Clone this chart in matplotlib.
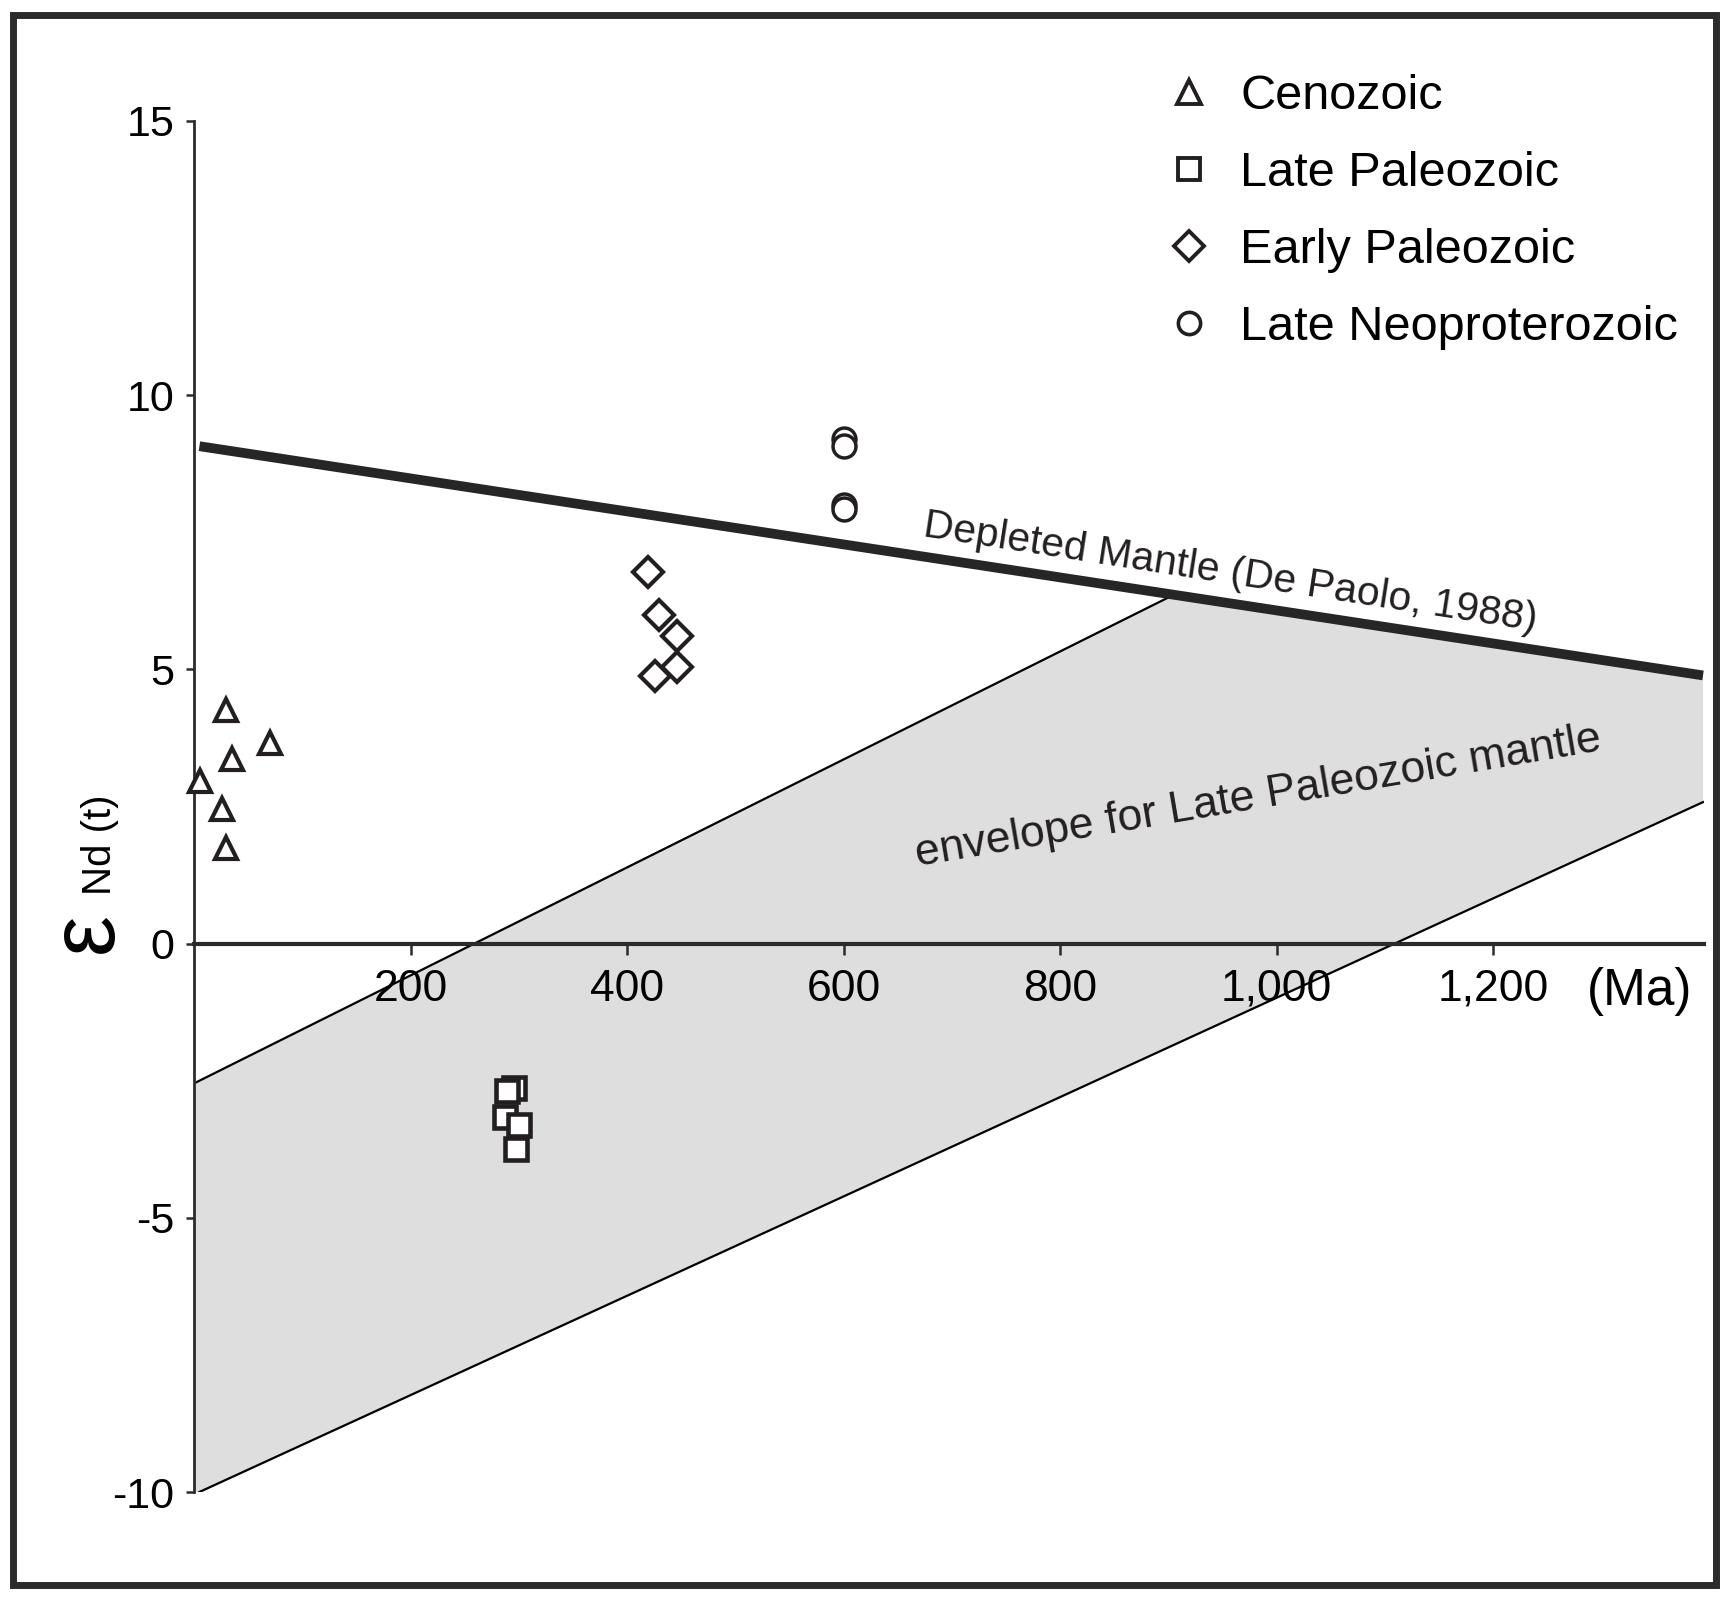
import numpy as np
import matplotlib
matplotlib.use("Agg")
import matplotlib.pyplot as plt
from matplotlib.lines import Line2D
from matplotlib.patches import Rectangle

plt.rcParams['font.family'] = ['Liberation Sans', 'DejaVu Sans']
plt.rcParams['axes.unicode_minus'] = False

# sample data (age in Ma, epsilon Nd(t))
ceno_age = [30, 70, 35, 6, 26, 30]
ceno_eps = [4.26, 3.66, 3.37, 2.97, 2.46, 1.75]

latepz_age = [296, 287, 297, 289, 300]
latepz_eps = [-2.64, -3.16, -3.75, -2.69, -3.31]

earlypz_age = [419, 430, 446, 446, 426]
earlypz_eps = [6.78, 5.99, 5.61, 5.04, 4.88]

neo_age = [600, 600, 600, 600]
neo_eps = [9.20, 9.08, 8.00, 7.92]

# depleted mantle line and envelope
dm_age = [5, 1394]
dm_eps = [9.07, 4.89]
env_upper_age = [2, 905]
env_upper_eps = [-2.53, 6.36]
env_lower_age = [5, 1394]
env_lower_eps = [-10.0, 2.58]
env_poly_age = [0, 905, 1394, 1394, 5, 0]
env_poly_eps = [-2.55, 6.36, 4.89, 2.58, -10.0, -10.0]

xticks = [200, 400, 600, 800, 1000, 1200]
xticklabels = ['200', '400', '600', '800', '1,000', '1,200']
yticks = [-10, -5, 0, 5, 10, 15]

ink = '#231f20'

W, H = 1729, 1598
fig = plt.figure(figsize=(W / 100, H / 100), dpi=100)

# axes placed so data maps onto the same pixels as the source
left, right = 194, 194 + 1395 * 1.0825
top, bottom = 121, 1492
ax = fig.add_axes([left / W, 1 - bottom / H, (right - left) / W, (bottom - top) / H])
ax.set_xlim(0, 1395)
ax.set_ylim(-10, 15)

ax.fill(env_poly_age, env_poly_eps, color='#dedede', lw=0, zorder=1)
ax.plot(env_upper_age, env_upper_eps, color='black', lw=1.6, zorder=2)
ax.plot(env_lower_age, env_lower_eps, color='black', lw=1.6, zorder=2)
ax.plot(dm_age, dm_eps, color='#262626', lw=7, solid_capstyle='butt', zorder=3)

mk = dict(ls='none', mfc='white', mec=ink, clip_on=False, zorder=5)
ax.plot(ceno_age, ceno_eps, marker='^', ms=16.5, mew=3, **mk)
ax.plot(latepz_age, latepz_eps, marker='s', ms=15.5, mew=3.3, **mk)
ax.plot(earlypz_age, earlypz_eps, marker='D', ms=15, mew=3, **mk)
ax.plot(neo_age, neo_eps, marker='o', ms=16.5, mew=2.5, **mk)

# axes styling
for s in ['top', 'right']:
    ax.spines[s].set_visible(False)
ax.spines['bottom'].set_position(('data', 0))
ax.spines['bottom'].set_linewidth(3)
ax.spines['bottom'].set_color('#2b2b2b')
ax.spines['left'].set_linewidth(2)
ax.spines['left'].set_color('#2b2b2b')
ax.spines['bottom'].set_zorder(2.5)
ax.spines['left'].set_zorder(2.5)

ax.set_xticks(xticks)
ax.set_xticklabels(xticklabels)
ax.set_yticks(yticks)
ax.tick_params(axis='x', direction='out', length=8, width=1.8, color='#2b2b2b',
               labelsize=32, pad=10)
ax.tick_params(axis='y', direction='out', length=6, width=1.8, color='#2b2b2b',
               labelsize=31, pad=8)

fig.text(1640 / W, 1 - 992 / H, '(Ma)', fontsize=37, ha='center', va='center')

# y label: epsilon Nd (t)
fig.text(88 / W, 1 - 933 / H, 'ε', fontsize=66, rotation=90, ha='center', va='center')
fig.text(100 / W, 1 - 845 / H, 'Nd (t)', fontsize=29, rotation=90, ha='center', va='center')

# annotations
fig.text(1230 / W, 1 - 573 / H, 'Depleted Mantle (De Paolo, 1988)', fontsize=29.5,
         rotation=-8.8, rotation_mode='anchor', ha='center', va='center', color=ink)
fig.text(1258 / W, 1 - 797 / H, 'envelope for Late Paleozoic mantle', fontsize=32,
         rotation=9.6, rotation_mode='anchor', ha='center', va='center', color=ink)

# legend
handles = [
    Line2D([], [], marker='^', ms=17, mew=2.8, ls='none', mfc='white', mec=ink),
    Line2D([], [], marker='s', ms=16, mew=2.8, ls='none', mfc='white', mec=ink),
    Line2D([], [], marker='D', ms=15.5, mew=2.8, ls='none', mfc='white', mec=ink),
    Line2D([], [], marker='o', ms=16, mew=2.6, ls='none', mfc='white', mec=ink),
]
labels = ['Cenozoic', 'Late Paleozoic', 'Early Paleozoic', 'Late Neoproterozoic']
fig.legend(handles, labels, loc='upper left', bbox_to_anchor=(1170 / W, 1 - 74 / H),
           frameon=False, fontsize=35, handlelength=0.8, handletextpad=0.65,
           borderpad=0, borderaxespad=0, labelspacing=0.66)

# outer frame
fig.patches.append(Rectangle((13 / W, 1 - 1585 / H), 1703 / W, 1570 / H,
                             transform=fig.transFigure, fill=False,
                             lw=5, ec='#2b2b2b', zorder=10))

fig.savefig('out.png', dpi=100)
